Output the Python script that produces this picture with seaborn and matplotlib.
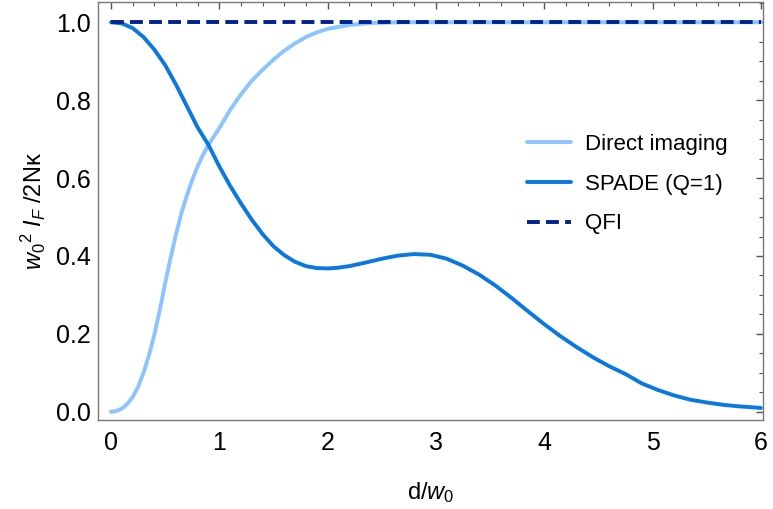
import pandas as pd
import numpy as np
import seaborn as sns
import matplotlib.pyplot as plt

# values
d_direct = [0, 0.05, 0.1, 0.15, 0.2, 0.25, 0.3, 0.35, 0.4, 0.45, 0.5, 0.55, 0.6, 0.65,
            0.7, 0.75, 0.8, 0.85, 0.9, 0.95, 1.0, 1.1, 1.2, 1.3, 1.4, 1.5, 1.6, 1.7,
            1.8, 1.9, 2.0, 2.2, 2.4, 2.7, 3.0, 4.0, 5.0, 6.0]
direct = [0, 0.002, 0.008, 0.02, 0.038, 0.064, 0.1, 0.145, 0.198, 0.26, 0.33, 0.395,
          0.455, 0.51, 0.555, 0.595, 0.63, 0.66, 0.685, 0.707, 0.728, 0.775, 0.815,
          0.85, 0.878, 0.904, 0.927, 0.946, 0.962, 0.974, 0.983, 0.993, 0.998, 1.0,
          1.0, 1.0, 1.0, 1.0]

d_spade = [0, 0.1, 0.2, 0.3, 0.4, 0.5, 0.6, 0.7, 0.8, 0.9, 1.0, 1.1, 1.2, 1.3, 1.4, 1.5,
           1.6, 1.7, 1.8, 1.9, 2.0, 2.1, 2.2, 2.35, 2.5, 2.65, 2.8, 2.95, 3.1, 3.25, 3.4,
           3.55, 3.7, 3.85, 4.0, 4.15, 4.3, 4.45, 4.6, 4.75, 4.9, 5.05, 5.2, 5.35, 5.5,
           5.65, 5.8, 6.0]
spade = [1.0, 0.997, 0.985, 0.962, 0.93, 0.89, 0.84, 0.785, 0.73, 0.685, 0.63, 0.58,
         0.535, 0.493, 0.456, 0.425, 0.402, 0.385, 0.374, 0.369, 0.368, 0.37, 0.374,
         0.383, 0.393, 0.401, 0.405, 0.403, 0.393, 0.375, 0.352, 0.324, 0.292, 0.258,
         0.225, 0.194, 0.166, 0.14, 0.117, 0.097, 0.073, 0.056, 0.042, 0.031, 0.024,
         0.018, 0.014, 0.01]

d_qfi = [0, 6.0]
qfi = [1.0, 1.0]

labels = ["Direct imaging", "SPADE (Q=1)", "QFI"]
colors = ["#8cc4ff", "#0a78de", "#00238f"]

sns.set_style("white")
plt.rcParams['font.family'] = ['Liberation Sans', 'DejaVu Sans']
plt.rcParams['mathtext.fontset'] = 'custom'
plt.rcParams['mathtext.rm'] = 'Liberation Sans'
plt.rcParams['mathtext.it'] = 'Liberation Sans:italic'
plt.rcParams['text.color'] = 'black'
plt.rcParams['axes.labelcolor'] = 'black'

fig = plt.figure(figsize=(7.73, 5.09), dpi=100)
ax = fig.add_axes([98 / 773, 1 - 420 / 509, 665 / 773, 418 / 509])

lw = 2.8
sns.lineplot(x=d_direct, y=direct, ax=ax, color=colors[0], lw=lw, label=labels[0],
             solid_joinstyle='round')
sns.lineplot(x=d_spade, y=spade, ax=ax, color=colors[1], lw=lw, label=labels[1],
             solid_joinstyle='round')
sns.lineplot(x=d_qfi, y=qfi, ax=ax, color=colors[2], lw=lw, label=labels[2])
ax.lines[-1].set_dashes((3.3, 1.6))

ax.set_xlim(-0.12, 6.02)
ax.set_ylim(-0.021, 1.052)
ax.set_xticks(np.arange(0, 7, 1))
ax.set_xticks(np.arange(0, 6.01, 0.2), minor=True)
ax.set_yticks(np.arange(0, 1.01, 0.2))
ax.set_yticks(np.arange(0, 1.051, 0.05), minor=True)
ax.set_yticklabels([f"{v:.1f}" for v in np.arange(0, 1.01, 0.2)])

ax.tick_params(which='both', direction='in', top=True, right=True,
               color='#555555', labelsize=18, labelcolor='black')
ax.tick_params(which='major', length=5, width=1)
ax.tick_params(which='minor', length=3, width=0.8)
ax.tick_params(axis='x', pad=8)
ax.tick_params(axis='y', pad=5)
for s in ax.spines.values():
    s.set_color('#777777')
    s.set_linewidth(1.0)

ax.set_xlabel(r"d/$w_0$", fontsize=17, labelpad=18)
ax.set_ylabel(r"${w_0}^2\ I_F$ /2Nκ", fontsize=17, labelpad=6)

ax.legend(loc='upper left', bbox_to_anchor=(0.645, 0.685), frameon=False,
          fontsize=16, handlelength=2.0, handletextpad=0.6, labelspacing=0.85,
          borderpad=0, borderaxespad=0)

fig.savefig("out.png", dpi=100)
